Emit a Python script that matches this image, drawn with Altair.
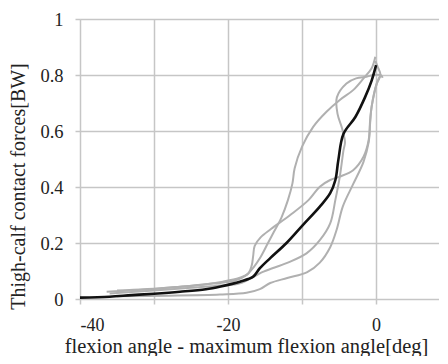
import altair as alt
import pandas as pd

# Mean curve (black)
mean_x = [-40, -36, -33, -30, -26.5, -23, -21, -18.4, -16.6, -15.7, -14.3, -12.1, -9.9, -7.6, -6.2, -5.5, -5.1, -4.4, -2.8, -1.5, -0.6, 0]
mean_y = [0.005, 0.008, 0.014, 0.019, 0.026, 0.035, 0.045, 0.062, 0.08, 0.11, 0.146, 0.20, 0.264, 0.33, 0.378, 0.425, 0.496, 0.59, 0.65, 0.72, 0.78, 0.835]

# Individual trials (gray)
g1_x = [-35, -28, -22, -19, -17.5, -16.5, -15.6, -14.8, -13.8, -12.8, -11.9, -11.3, -11.0, -10.0, -8.5, -6.7, -4.9, -3.1, -1.7, -0.6, -0.1]
g1_y = [0.03, 0.04, 0.055, 0.066, 0.086, 0.115, 0.15, 0.19, 0.24, 0.29, 0.354, 0.413, 0.467, 0.544, 0.615, 0.669, 0.711, 0.746, 0.788, 0.824, 0.865]

g2_x = [-36.4, -30, -26.5, -23, -20.7, -18.5, -17.3, -16.8, -16.6, -16.4, -15.6, -14.2, -11.6, -9.1, -7.6, -6.2, -4.9, -3.1, -1.7, -1.0, -0.8, -0.6, 0.1, 0.6, 0.2, -0.1]
g2_y = [0.026, 0.036, 0.044, 0.053, 0.062, 0.075, 0.09, 0.12, 0.155, 0.19, 0.22, 0.25, 0.30, 0.354, 0.401, 0.425, 0.437, 0.46, 0.508, 0.568, 0.64, 0.687, 0.77, 0.80, 0.83, 0.85]

g3_x = [-35, -28, -21.1, -17.5, -15.7, -14.3, -12.0, -9.3, -7.6, -6.2, -5.3, -4.5, -3.1, -1.7, -1.0, -0.8, -0.6, 0.1, 0.6]
g3_y = [0.01, 0.012, 0.016, 0.022, 0.035, 0.057, 0.075, 0.096, 0.13, 0.185, 0.25, 0.33, 0.41, 0.49, 0.56, 0.63, 0.687, 0.77, 0.80]

g4_x = [-36, -30, -25, -21, -18.4, -15.2, -12.1, -9.4, -7.6, -6.2, -5.5, -4.9, -4.4, -4.2, -4.6, -5.2, -5.3, -4.0, -2.7, -1.3, -0.3, 0.6, 0.9]
g4_y = [0.02, 0.03, 0.04, 0.048, 0.056, 0.098, 0.128, 0.163, 0.21, 0.27, 0.354, 0.437, 0.532, 0.56, 0.61, 0.66, 0.72, 0.77, 0.788, 0.794, 0.80, 0.80, 0.79]

x_ticks = [-40, -30, -20, -10, 0]
y_ticks = [0, 0.2, 0.4, 0.6, 0.8, 1]

gray_sets = {"g1": (g1_x, g1_y), "g2": (g2_x, g2_y), "g3": (g3_x, g3_y), "g4": (g4_x, g4_y)}
rows = []
for name, (xs, ys) in gray_sets.items():
    for i, (a, b) in enumerate(zip(xs, ys)):
        rows.append({"series": name, "ord": i, "x": a, "y": b})
gray_df = pd.DataFrame(rows)
mean_df = pd.DataFrame({"x": mean_x, "y": mean_y, "ord": list(range(len(mean_x)))})

FONT = "Liberation Serif"
GRID = "#c6c6c6"
TXT = "#222222"

x_enc = alt.X(
    "x:Q",
    scale=alt.Scale(domain=[-40, 8.5], nice=False, zero=False),
    axis=alt.Axis(
        values=x_ticks,
        labelExpr="datum.value % 20 == 0 ? '' + datum.value : ''",
        title="flexion angle - maximum flexion angle[deg]",
        titleX=166, titleY=53, titleBaseline="alphabetic", titleAlign="center",
        grid=True, gridColor=GRID, gridWidth=1.5,
        domain=False, ticks=True, tickSize=5, tickColor=GRID, tickWidth=1.5,
        labelFont=FONT, labelFontSize=18, labelColor=TXT, labelPadding=12,
        titleFont=FONT, titleFontSize=20.5, titleFontWeight="normal", titleColor=TXT,
    ),
)
y_enc = alt.Y(
    "y:Q",
    scale=alt.Scale(domain=[0, 1], nice=False),
    axis=alt.Axis(
        values=y_ticks,
        labelExpr="'' + datum.value",
        title="Thigh-calf contact forces[BW]",
        titleX=-62, titleY=167, titleAngle=270, titleBaseline="middle", titleAlign="center",
        grid=True, gridColor=GRID, gridWidth=1.5,
        domain=False, ticks=True, tickSize=5, tickColor=GRID, tickWidth=1.5,
        labelFont=FONT, labelFontSize=18.5, labelColor=TXT, labelPadding=12,
        titleFont=FONT, titleFontSize=20, titleFontWeight="normal", titleColor=TXT,
    ),
)

gray = alt.Chart(gray_df).mark_line(color="#b0b0b0", strokeWidth=2, interpolate="catmull-rom").encode(
    x=x_enc, y=y_enc, detail="series:N", order="ord:Q"
)
black = alt.Chart(mean_df).mark_line(color="#111111", strokeWidth=2.6, interpolate="catmull-rom").encode(
    x="x:Q", y="y:Q", order="ord:Q"
)

chart = alt.layer(gray, black).properties(
    width=359, height=280,
    autosize=alt.AutoSizeParams(type="none"),
    padding={"left": 72, "top": 11, "right": 0, "bottom": 57},
).configure_view(stroke=None).configure(background="white")

chart.save("out.html", embed_options={"renderer": "svg", "actions": False})
